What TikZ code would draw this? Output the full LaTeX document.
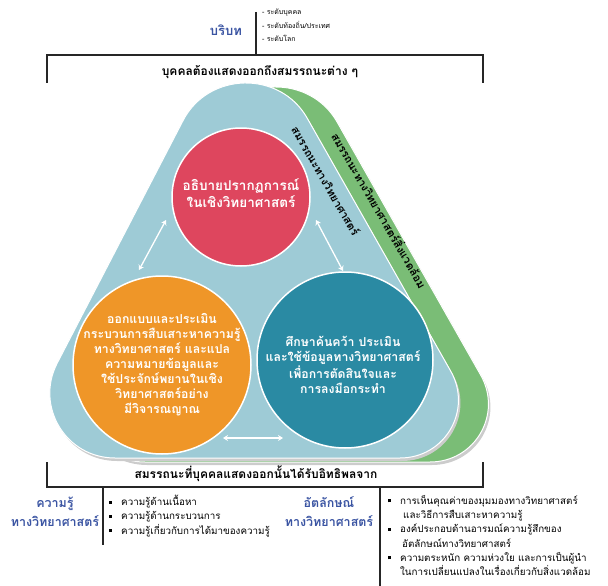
\documentclass[tikz,border=0pt]{standalone}
\usepackage{fontspec}
\setmainfont[Script=Thai]{Loma}
\usepackage{tikz}
\usetikzlibrary{arrows.meta,positioning,calc}

\definecolor{sciblue}{RGB}{158,203,214}
\definecolor{envgreen}{RGB}{122,189,118}
\definecolor{explainred}{RGB}{222,70,94}
\definecolor{designorange}{RGB}{239,150,40}
\definecolor{evalteal}{RGB}{42,138,163}
\definecolor{labelblue}{RGB}{58,84,162}

\newcommand{\triarea}{%
  ($(243,5)!130pt!(8,458)$) .. controls ($(243,5)!75pt!(8,458)$) and ($(243,5)!75pt!(500,458)$) .. ($(243,5)!130pt!(500,458)$)
  -- ($(500,458)!100pt!(243,5)$) .. controls ($(500,458)!55pt!(243,5)$) and ($(500,458)!55pt!(8,458)$) .. ($(500,458)!100pt!(8,458)$)
  -- ($(8,458)!107pt!(500,458)$) .. controls ($(8,458)!58pt!(500,458)$) and ($(8,458)!58pt!(243,5)$) .. ($(8,458)!107pt!(243,5)$)
  -- cycle}
\newcommand{\bul}{\rule[2pt]{3pt}{3pt}\hspace{9pt}}

\begin{document}
\begin{tikzpicture}[x=1pt, y=-1pt,
    compcircle/.style={circle, draw=white, line width=1.5pt, inner sep=0pt},
    comptext/.style={text=white, font=\bfseries\fontsize{12.3}{15}\selectfont, align=center},
    bracket/.style={line width=1.3pt, black!85},
    sidelabel/.style={font=\bfseries\fontsize{11}{12}\selectfont, rotate=-60},
    bluelabel/.style={text=labelblue, font=\bfseries\fontsize{12.5}{19}\selectfont, align=center},
    bulletlist/.style={font=\fontsize{9.8}{14.3}\selectfont, align=left, anchor=north west, inner sep=0pt},
    linkarrow/.style={white, line width=1.3pt, {Stealth[length=5pt,width=6pt]}-{Stealth[length=5pt,width=6pt]}}
  ]
    \useasboundingbox (0,0) rectangle (608,586);

    % Context
    % ---------------------
    \node[bluelabel, font=\bfseries\fontsize{13}{15}\selectfont] (context) at (226,30) {บริบท};
    \draw[bracket] (256,12) -- (256,55);
    \node[bulletlist, font=\fontsize{7}{13.5}\selectfont] (levels) at (262,9) {- ระดับบุคคล\\- ระดับท้องถิ่น/ประเทศ\\- ระดับโลก};

    \draw[bracket] (47,83) -- (47,55) -- (483,55) -- (483,83);
    \node[font=\bfseries\fontsize{12}{13}\selectfont] (shows) at (260,72) {บุคคลต้องแสดงออกถึงสมรรถนะต่าง ๆ};

    % Competency areas
    % ---------------------
    \fill[black!20, shift={(32,7)}] \triarea;
    \filldraw[envgreen, draw=white, line width=1pt, shift={(30,4)}] \triarea;
    \fill[black!20, shift={(2,3)}] \triarea;
    \filldraw[sciblue, draw=white, line width=1pt] \triarea;

    \node[sidelabel] (scilabel) at (326,181) {สมรรถนะทางวิทยาศาสตร์};
    \node[sidelabel] (envlabel) at (380,210) {สมรรถนะทางวิทยาศาสตร์สิ่งแวดล้อม};

    \node[compcircle, fill=explainred, minimum size=138pt] (explain) at (241,197) {};
    \node[comptext, font=\bfseries\fontsize{13.5}{17}\selectfont] (explaintext) at (241,193) {อธิบายปรากฏการณ์\\ในเชิงวิทยาศาสตร์};
    \node[compcircle, fill=designorange, minimum size=178pt] (design) at (162,365) {};
    \node[comptext] (designtext) at (design.center) {ออกแบบและประเมิน\\กระบวนการสืบเสาะหาความรู้\\ทางวิทยาศาสตร์ และแปล\\ความหมายข้อมูลและ\\ใช้ประจักษ์พยานในเชิง\\วิทยาศาสตร์อย่าง\\มีวิจารณญาณ};
    \node[compcircle, fill=evalteal, minimum size=176pt] (evaluate) at (345,360) {};
    \node[comptext] (evaluatetext) at (343,365) {ศึกษาค้นคว้า ประเมิน\\และใช้ข้อมูลทางวิทยาศาสตร์\\เพื่อการตัดสินใจและ\\การลงมือกระทำ};

    \coordinate (ed-a) at (139,270);
    \coordinate (ed-b) at (166,220);
    \coordinate (ee-a) at (316,220);
    \coordinate (ee-b) at (343,271);
    \coordinate (de-a) at (223,438);
    \coordinate (de-b) at (283,438);
    \draw[linkarrow] (ed-a) -- (ed-b);
    \draw[linkarrow] (ee-a) -- (ee-b);
    \draw[linkarrow] (de-a) -- (de-b);

    % Influences
    % ---------------------
    \draw[bracket] (47,462) -- (47,487) -- (483,487) -- (483,462);
    \node[font=\bfseries\fontsize{12}{13}\selectfont] (influence) at (256,474) {สมรรถนะที่บุคคลแสดงออกนั้นได้รับอิทธิพลจาก};
    \draw[bracket] (103,487) -- (103,545);
    \draw[bracket] (380,487) -- (380,586);

    \node[bluelabel] (knowledge) at (55,512) {ความรู้\\ทางวิทยาศาสตร์};
    \node[bulletlist] (knowlist) at (109,495) {\bul ความรู้ด้านเนื้อหา\\\bul ความรู้ด้านกระบวนการ\\\bul ความรู้เกี่ยวกับการได้มาของความรู้};
    \node[bluelabel] (identity) at (329,512) {อัตลักษณ์\\ทางวิทยาศาสตร์};
    \node[bulletlist] (identlist) at (388,495) {\bul การเห็นคุณค่าของมุมมองทางวิทยาศาสตร์\\\hspace{15pt}และวิธีการสืบเสาะหาความรู้\\\bul องค์ประกอบด้านอารมณ์ความรู้สึกของ\\\hspace{14pt}อัตลักษณ์ทางวิทยาศาสตร์\\\bul ความตระหนัก ความห่วงใย และการเป็นผู้นำ\\\hspace{12pt}ในการเปลี่ยนแปลงในเรื่องเกี่ยวกับสิ่งแวดล้อม};
  \end{tikzpicture}
\end{document}
